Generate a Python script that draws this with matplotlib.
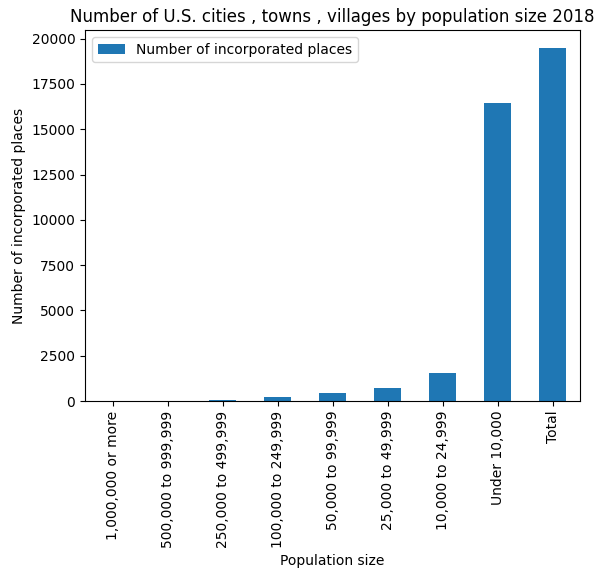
import matplotlib
matplotlib.use("Agg")
import matplotlib.pyplot as plt
import numpy as np

categories = ["1,000,000 or more", "500,000 to 999,999", "250,000 to 499,999",
              "100,000 to 249,999", "50,000 to 99,999", "25,000 to 49,999",
              "10,000 to 24,999", "Under 10,000", "Total"]
places = [10, 25, 52, 240, 431, 714, 1566, 16441, 19495]

fig, ax = plt.subplots(figsize=(6.03, 5.78), dpi=100)
fig.subplots_adjust(left=0.141, right=0.962, top=0.948, bottom=0.306)

x = np.arange(len(categories))
ax.bar(x, places, width=0.5, color="#1f77b4", label="Number of incorporated places")
ax.set_xticks(x)
ax.set_xticklabels(categories, rotation=90)
ax.set_xlim(-0.5, len(categories) - 0.5)
ax.set_ylim(0, 20470)
ax.set_xlabel("Population size")
ax.set_ylabel("Number of incorporated places")
ax.set_title("Number of U.S. cities , towns , villages by population size 2018")
ax.legend(loc="upper left")

fig.savefig("out.png", dpi=100)
